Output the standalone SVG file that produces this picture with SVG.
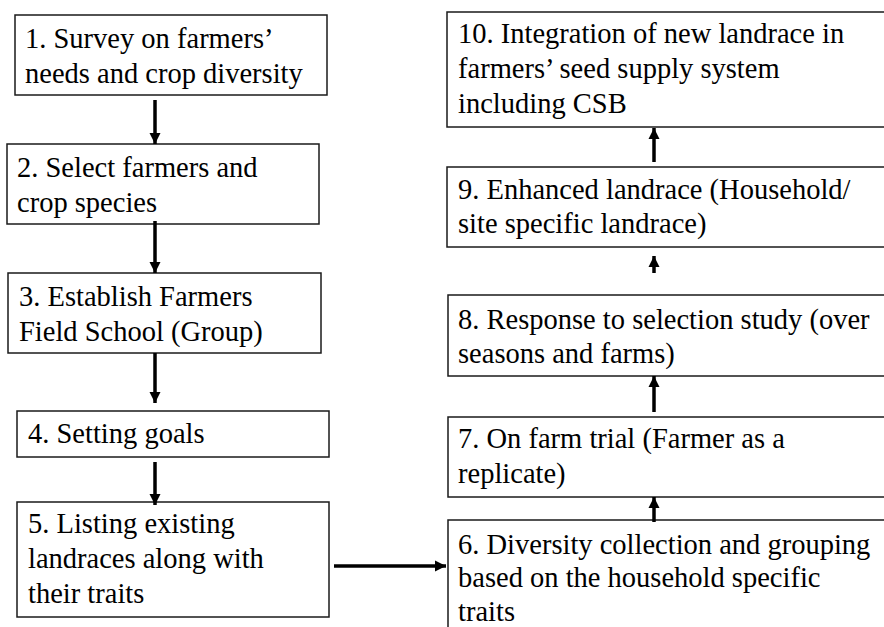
<svg xmlns="http://www.w3.org/2000/svg" width="884" height="627" viewBox="0 0 884 627">
<style>
.box{fill:#fff;stroke:#1a1a1a;stroke-width:1.5}
.lbl{font-family:'Liberation Serif','Times New Roman',serif;font-size:28.5px;fill:#000}
.c{stroke:#000;stroke-width:3.5;fill:none}
</style>
<defs>
<marker id="ah" viewBox="0 0 10 10" refX="10" refY="5" markerWidth="3.2" markerHeight="3.2" markerUnits="strokeWidth" orient="auto">
<path d="M0,0 L10,5 L0,10 z" fill="#000"/>
</marker>
</defs>
<rect width="884" height="627" fill="#fff"/>
<g id="n1"><rect class="box" x="15" y="15" width="312" height="80"/>
<text class="lbl" x="25" y="48.3">1. Survey on farmers’</text>
<text class="lbl" x="25" y="82.7">needs and crop diversity</text></g>
<g id="n2"><rect class="box" x="7" y="144" width="312" height="80"/>
<text class="lbl" x="17" y="176.7">2. Select farmers and</text>
<text class="lbl" x="17" y="211.7">crop species</text></g>
<g id="n3"><rect class="box" x="8" y="273" width="313" height="80"/>
<text class="lbl" x="19" y="306">3. Establish Farmers</text>
<text class="lbl" x="19" y="340.7">Field School (Group)</text></g>
<g id="n4"><rect class="box" x="17" y="411" width="312" height="46"/>
<text class="lbl" x="28" y="443.3">4. Setting goals</text></g>
<g id="n5"><rect class="box" x="17" y="502" width="312" height="115"/>
<text class="lbl" x="28" y="533.3">5. Listing existing</text>
<text class="lbl" x="28" y="568.3">landraces along with</text>
<text class="lbl" x="28" y="603.3">their traits</text></g>
<g id="n6"><rect class="box" x="448" y="520" width="460" height="130"/>
<text class="lbl" x="458" y="554">6. Diversity collection and grouping</text>
<text class="lbl" x="458" y="587.3">based on the household specific</text>
<text class="lbl" x="458" y="620.7">traits</text></g>
<g id="n7"><rect class="box" x="448" y="417" width="460" height="80"/>
<text class="lbl" x="458" y="448.3">7. On farm trial (Farmer as a</text>
<text class="lbl" x="458" y="483.3">replicate)</text></g>
<g id="n8"><rect class="box" x="448" y="295" width="460" height="81"/>
<text class="lbl" x="458" y="329.3">8. Response to selection study (over</text>
<text class="lbl" x="458" y="363.3">seasons and farms)</text></g>
<g id="n9"><rect class="box" x="447" y="167" width="460" height="80"/>
<text class="lbl" x="458" y="199.3">9. Enhanced landrace (Household/</text>
<text class="lbl" x="458" y="233.3">site specific landrace)</text></g>
<g id="n10"><rect class="box" x="447" y="12" width="460" height="115"/>
<text class="lbl" x="458" y="43.3">10. Integration of new landrace in</text>
<text class="lbl" x="458" y="78.3">farmers’ seed supply system</text>
<text class="lbl" x="458" y="112.7">including CSB</text></g>
<g id="connectors">
<line class="c" x1="155" y1="100" x2="155" y2="144" marker-end="url(#ah)"/>
<line class="c" x1="155" y1="221" x2="155" y2="273" marker-end="url(#ah)"/>
<line class="c" x1="155" y1="353" x2="155" y2="403" marker-end="url(#ah)"/>
<line class="c" x1="155" y1="462" x2="155" y2="505" marker-end="url(#ah)"/>
<line class="c" x1="334" y1="566" x2="446" y2="566" marker-end="url(#ah)"/>
<line class="c" x1="654" y1="522" x2="654" y2="497" marker-end="url(#ah)"/>
<line class="c" x1="654" y1="412" x2="654" y2="376" marker-end="url(#ah)"/>
<line class="c" x1="654" y1="273" x2="654" y2="256" marker-end="url(#ah)"/>
<line class="c" x1="654" y1="162" x2="654" y2="128" marker-end="url(#ah)"/>
</g>
</svg>
